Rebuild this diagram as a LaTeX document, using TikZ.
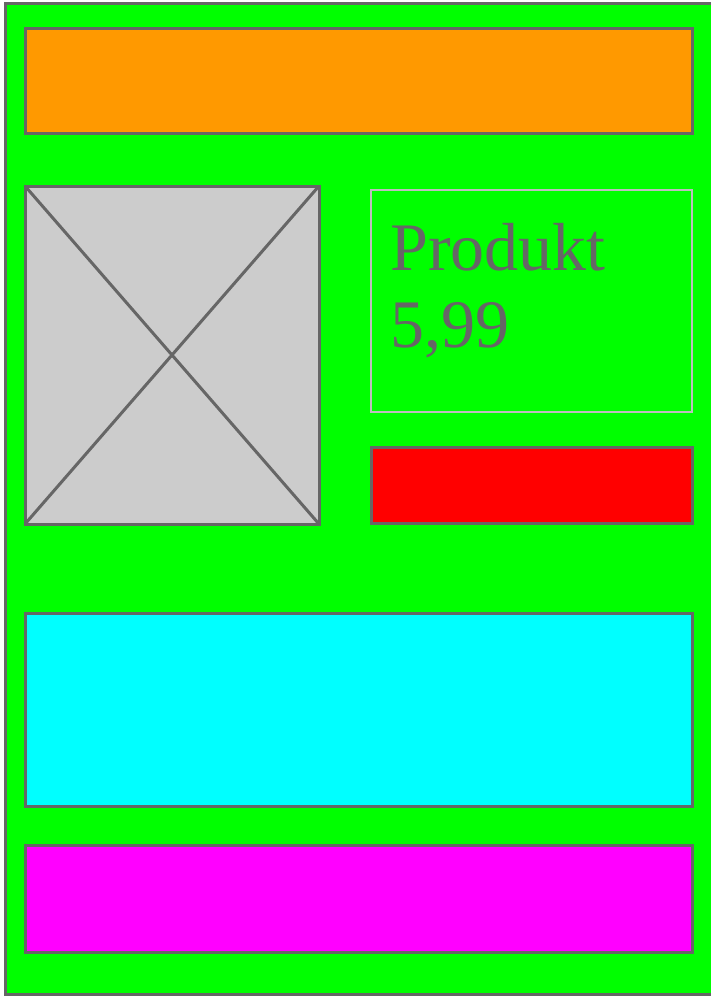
\documentclass[tikz,border=0pt]{standalone}
\usepackage{tikz}
\usepackage{fontspec}
\setmainfont{Liberation Serif}
\usetikzlibrary{positioning}

\definecolor{rahmen}{RGB}{102,102,102}
\definecolor{hellrahmen}{RGB}{190,190,190}
\definecolor{seite}{RGB}{0,255,0}
\definecolor{kopf}{RGB}{255,153,0}
\definecolor{bild}{RGB}{204,204,204}
\definecolor{knopf}{RGB}{255,0,0}
\definecolor{inhalt}{RGB}{0,255,255}
\definecolor{fuss}{RGB}{255,0,255}

\tikzset{
  block/.style={draw=rahmen, line width=3pt},
  preis/.style={text=rahmen, inner sep=0pt, anchor=base west, font=\fontsize{68}{77}\selectfont}
}

\begin{document}
\begin{tikzpicture}[x=1pt, y=-1pt]
  \useasboundingbox (0,0) rectangle (711,997);
  % page
  \draw[block, fill=seite] (5,3) rectangle (716,994);
  % header
  \draw[block, fill=kopf] (25,28) rectangle (692,133);
  % image placeholder
  \coordinate (bildA) at (25,186);
  \coordinate (bildB) at (319,524);
  \draw[block, fill=bild] (bildA) rectangle (bildB);
  \draw[draw=rahmen, line width=3pt] (bildA) -- (bildB);
  \draw[draw=rahmen, line width=3pt] (bildA -| bildB) -- (bildA |- bildB);
  % product text
  \draw[draw=hellrahmen, line width=2pt] (371,190) rectangle (692,412);
  \node[preis] (name) at (390,270) {Produkt};
  \node[preis] (preiswert) at (390,347) {5,99};
  % button
  \draw[block, fill=knopf] (371,447) rectangle (692,523);
  % description
  \draw[block, fill=inhalt] (25,613) rectangle (692,806);
  % footer
  \draw[block, fill=fuss] (25,845) rectangle (692,952);
\end{tikzpicture}
\end{document}
